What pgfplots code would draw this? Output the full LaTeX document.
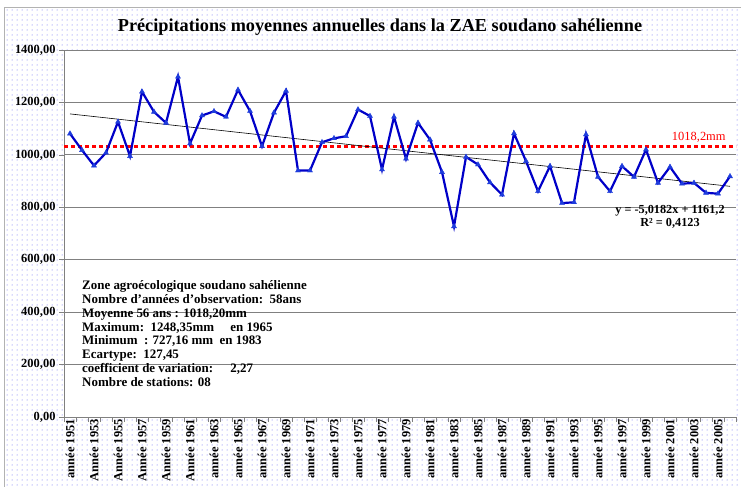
\documentclass[border=0pt]{standalone}
\usepackage{fontspec}
\setmainfont{Liberation Serif}
\usepackage{pgfplots}
\usepackage{pgfplotstable}
\pgfplotsset{compat=1.18}
\usetikzlibrary{patterns}
\pgfdeclarepatternformonly{mydots}{\pgfpointorigin}{\pgfpoint{5bp}{4.5bp}}{\pgfpoint{5bp}{4.5bp}}{\pgfpathcircle{\pgfpoint{2.5bp}{2.25bp}}{0.55bp}\pgfusepath{fill}}
\definecolor{serieblue}{RGB}{0,0,200}
\definecolor{markblue}{RGB}{30,60,220}
\definecolor{dotblue}{RGB}{90,90,240}

\pgfplotstableread{
idx year val
0 1951 1081
1 1952 1018
2 1953 959
3 1954 1008
4 1955 1126
5 1956 995
6 1957 1241
7 1958 1164
8 1959 1122
9 1960 1298
10 1961 1043
11 1962 1150
12 1963 1166
13 1964 1145
14 1965 1248
15 1966 1167
16 1967 1033
17 1968 1161
18 1969 1244
19 1970 940
20 1971 940
21 1972 1048
22 1973 1063
23 1974 1071
24 1975 1173
25 1976 1148
26 1977 944
27 1978 1145
28 1979 985
29 1980 1122
30 1981 1058
31 1982 934
32 1983 727
33 1984 992
34 1985 963
35 1986 895
36 1987 848
37 1988 1082
38 1989 976
39 1990 861
40 1991 957
41 1992 816
42 1993 819
43 1994 1078
44 1995 916
45 1996 861
46 1997 957
47 1998 916
48 1999 1020
49 2000 893
50 2001 954
51 2002 890
52 2003 893
53 2004 855
54 2005 852
55 2006 918
}\datatable

\begin{document}
\begin{tikzpicture}
\useasboundingbox (0,0) rectangle (741bp,487bp);
\fill[pattern=mydots, pattern color=dotblue] (3bp,0) rectangle (741bp,479bp);
\draw[gray!60, line width=1bp] (4bp,0) -- (4bp,479bp) -- (741bp,479bp);
\node[font=\fontsize{18.3}{21}\selectfont\bfseries] at (380bp,460bp) {Précipitations moyennes annuelles dans la ZAE soudano sahélienne};
\begin{axis}[
  at={(64bp,70bp)}, anchor=south west,
  scale only axis, width=672bp, height=367bp,
  xmin=-0.5, xmax=55.5, ymin=0, ymax=1400,
  axis background/.style={fill=white},
  axis x line*=bottom, axis y line*=left,
  axis line style={gray, line width=0.8bp},
  ytick={0,200,...,1400},
  ymajorgrids, major grid style={gray, line width=0.8bp},
  tick align=outside,
  major tick length=5bp,
  major tick style={gray, line width=0.6bp},
  yticklabel style={font=\fontsize{12.5}{13}\selectfont\bfseries,
    /pgf/number format/fixed, /pgf/number format/fixed zerofill,
    /pgf/number format/precision=2, /pgf/number format/use comma,
    /pgf/number format/1000 sep={}, /pgf/number format/assume math mode=true},
  xtick={-0.5,0.5,...,55.5},
  xticklabels={},
  extra x ticks={0,2,...,54},
  extra x tick labels={année 1951, Année 1953, Année 1955, Année 1957, Année 1959, Année 1961, année 1963, année 1965, année 1967, année 1969, année 1971, année 1973, année 1975, année 1977, année 1979, année 1981, année 1983, année 1985, année 1987, année 1989, année 1991, année 1993, année 1995, année 1997, année 1999, année 2001, année 2003, année 2005},
  extra x tick style={major tick length=0pt, grid=none,
    xticklabel style={rotate=90, anchor=east, inner sep=2bp, font=\fontsize{12.5}{13}\selectfont\bfseries}},
]
\addplot[red, line width=3.5bp, dash pattern=on 3.5bp off 3.5bp, forget plot] coordinates {(-0.5,1032) (55.5,1032)};
\addplot[black, line width=0.6bp, forget plot] coordinates {(0,1156.2) (55,880.0)};
\addplot[serieblue, line width=2.2bp, mark=triangle*, mark size=2.9bp,
  mark options={fill=markblue, draw=markblue, line width=0.4bp}] table[x=idx, y=val] {\datatable};
\node[red, font=\fontsize{12.5}{13}\selectfont] at (axis cs:52.4,1068) {1018,2mm};
\node[font=\fontsize{12.3}{13}\selectfont\bfseries, align=center] at (axis cs:50,765) {y = -5,0182x + 1161,2\\R² = 0,4123};
\end{axis}
\node[anchor=north west, align=left, inner sep=0pt, font=\fontsize{13}{14}\selectfont\bfseries] at (82bp,207bp) {Zone agroécologique soudano sahélienne\\
Nombre d'années d'observation:\ \ 58ans\\
Moyenne 56 ans : 1018,20mm\\
Maximum:\ \ 1248,35mm \quad en 1965\\
Minimum\ \ : 727,16 mm\ \ en 1983\\
Ecartype:\ \ 127,45\\
coefficient de variation: \quad 2,27\\
Nombre de stations: 08};
\end{tikzpicture}
\end{document}
